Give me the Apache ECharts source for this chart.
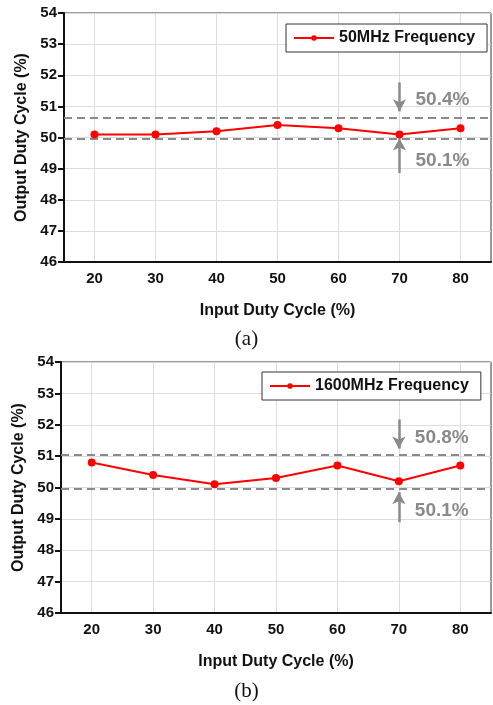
<!DOCTYPE html>
<html>
<head>
<meta charset="utf-8">
<script src="https://cdn.jsdelivr.net/npm/echarts@6/dist/echarts.min.js"></script>
<style>
html, body { margin: 0; padding: 0; background: #fff; }
#chart-container { width: 493px; height: 705px; }
</style>
</head>
<body>
<div id="chart-container"></div>
<script>
var dom = document.getElementById('chart-container');
var myChart = echarts.init(dom, null, { renderer: 'canvas' });

// data
var inputDuty = ['20', '30', '40', '50', '60', '70', '80'];
var duty50 = [50.1, 50.1, 50.2, 50.4, 50.3, 50.1, 50.3];
var duty1600 = [50.8, 50.4, 50.1, 50.3, 50.7, 50.2, 50.7];
// dashed bound lines (upper, lower)
var bounds50 = [50.65, 49.95];
var bounds1600 = [51.05, 49.95];
// arrows at 70%: [downFrom, downTo, upFrom, upTo]
var arrows50 = [51.77, 50.84, 48.86, 49.97];
var arrows1600 = [52.17, 51.24, 48.89, 49.85];
// annotation texts and their heights
var notes50 = ['50.4%', '50.1%'];
var notes1600 = ['50.8%', '50.1%'];
var notePos50 = [51.22, 49.26];
var notePos1600 = [51.59, 49.27];
var captions = ['(a)', '(b)'];
var seriesNames = ['50MHz Frequency', '1600MHz Frequency'];

var font = 'Liberation Sans, Arial, sans-serif';
var gray = '#8a8a8a';

function xAxisOf(idx) {
  return {
    type: 'category',
    gridIndex: idx,
    data: inputDuty,
    boundaryGap: true,
    name: 'Input Duty Cycle (%)',
    nameLocation: 'middle',
    nameGap: 41,
    nameTextStyle: { fontFamily: font, fontWeight: 'bold', fontSize: 16, color: '#111' },
    axisLine: { lineStyle: { color: '#111', width: 2 } },
    axisTick: { alignWithLabel: true, inside: true, length: 7, lineStyle: { color: '#111', width: 2 } },
    axisLabel: { fontFamily: font, fontWeight: 'bold', fontSize: 15, color: '#111', margin: 9 },
    splitLine: { show: true, alignWithLabel: true, lineStyle: { color: '#dcdcdc', width: 1 } }
  };
}

function yAxisOf(idx) {
  return {
    type: 'value',
    gridIndex: idx,
    min: 46,
    max: 54,
    interval: 1,
    name: 'Output Duty Cycle (%)',
    nameLocation: 'middle',
    nameRotate: 90,
    nameGap: 33,
    nameTextStyle: { fontFamily: font, fontWeight: 'bold', fontSize: 16, color: '#111' },
    axisLine: { show: true, lineStyle: { color: '#111', width: 2 } },
    axisTick: { show: true, inside: false, length: 6, lineStyle: { color: '#111', width: 2 } },
    axisLabel: { fontFamily: font, fontWeight: 'bold', fontSize: 15, color: '#111', margin: 7 },
    splitLine: { show: true, lineStyle: { color: '#dcdcdc', width: 1 } }
  };
}

function seriesOf(idx, values, bounds, arrows, notes, notePos) {
  var arrowStyle = { color: gray, width: 2.5, type: 'solid' };
  return {
    name: seriesNames[idx],
    type: 'line',
    xAxisIndex: idx,
    yAxisIndex: idx,
    data: values,
    symbol: 'circle',
    symbolSize: 8,
    itemStyle: { color: '#ff0000' },
    lineStyle: { color: '#ff0000', width: 2 },
    z: 5,
    markLine: {
      silent: true,
      animation: false,
      symbol: 'none',
      label: { show: false },
      data: [
        { yAxis: bounds[0], lineStyle: { color: gray, width: 2, type: [8, 5] } },
        { yAxis: bounds[1], lineStyle: { color: gray, width: 2, type: [8, 5] } },
        [
          { coord: ['70', arrows[0]], symbol: 'none', lineStyle: arrowStyle },
          { coord: ['70', arrows[1]], symbol: 'arrow', symbolSize: [10, 12] }
        ],
        [
          { coord: ['70', arrows[2]], symbol: 'none', lineStyle: arrowStyle },
          { coord: ['70', arrows[3]], symbol: 'arrow', symbolSize: [10, 12] }
        ]
      ]
    },
    markPoint: {
      silent: true,
      animation: false,
      symbolSize: 0,
      label: {
        show: true,
        position: 'right',
        distance: 0,
        offset: [16, 0],
        fontFamily: font,
        fontWeight: 'bold',
        fontSize: 19,
        color: gray,
        formatter: function (p) { return p.name; }
      },
      data: [
        { name: notes[0], coord: ['70', notePos[0]] },
        { name: notes[1], coord: ['70', notePos[1]] }
      ]
    }
  };
}

function legendOf(idx, left, top) {
  return {
    data: [seriesNames[idx]],
    left: left,
    top: top,
    orient: 'horizontal',
    backgroundColor: '#fff',
    borderColor: '#333',
    borderWidth: 1,
    padding: [6, 12, 6, 7],
    itemWidth: 40,
    itemHeight: 7,
    itemGap: 5,
    textStyle: { fontFamily: font, fontWeight: 'bold', fontSize: 16, color: '#111', lineHeight: 16 }
  };
}

option = {
  backgroundColor: '#fff',
  animation: false,
  title: [
    { text: captions[0], left: 'center', top: 324, textStyle: { fontFamily: 'Liberation Serif, Times New Roman, serif', fontWeight: 'normal', fontSize: 21, color: '#111' } },
    { text: captions[1], left: 'center', top: 676, textStyle: { fontFamily: 'Liberation Serif, Times New Roman, serif', fontWeight: 'normal', fontSize: 21, color: '#111' } }
  ],
  legend: [legendOf(0, 286, 24), legendOf(1, 262, 372)],
  grid: [
    { left: 64, top: 13, right: 2, height: 249, show: true, borderColor: '#333', borderWidth: 1 },
    { left: 61, top: 362, right: 2, height: 251, show: true, borderColor: '#333', borderWidth: 1 }
  ],
  xAxis: [xAxisOf(0), xAxisOf(1)],
  yAxis: [yAxisOf(0), yAxisOf(1)],
  series: [
    seriesOf(0, duty50, bounds50, arrows50, notes50, notePos50),
    seriesOf(1, duty1600, bounds1600, arrows1600, notes1600, notePos1600)
  ]
};

myChart.setOption(option);
window.addEventListener('resize', myChart.resize);
</script>
</body>
</html>
